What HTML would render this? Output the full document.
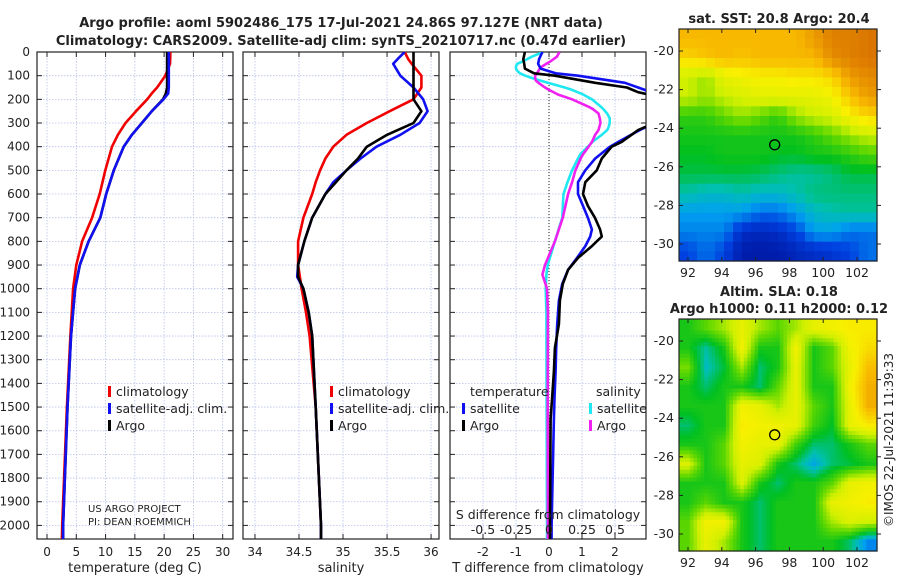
<!DOCTYPE html>
<html><head><meta charset="utf-8"><style>
body{margin:0;background:#fff;font-family:"Liberation Sans","DejaVu Sans",sans-serif}
svg text{font-family:"DejaVu Sans","Liberation Sans",sans-serif;fill:#222}
</style></head><body>
<svg id="c" width="900" height="580" xmlns="http://www.w3.org/2000/svg">
<text x="341" y="27" text-anchor="middle" font-size="13" font-weight="bold">Argo profile: aoml 5902486_175 17-Jul-2021 24.86S 97.127E (NRT data)</text>
<text x="341" y="45" text-anchor="middle" font-size="13" font-weight="bold">Climatology: CARS2009. Satellite-adj clim: synTS_20210717.nc (0.47d earlier)</text>
<text x="779" y="23" text-anchor="middle" font-size="13" font-weight="bold">sat. SST: 20.8 Argo: 20.4</text>
<text x="779" y="296" text-anchor="middle" font-size="13" font-weight="bold">Altim. SLA: 0.18</text>
<text x="779" y="313" text-anchor="middle" font-size="13" font-weight="bold">Argo h1000: 0.11 h2000: 0.12</text>
<text transform="translate(893,440) rotate(-90)" text-anchor="middle" font-size="12">©IMOS 22-Jul-2021 11:39:33</text>
<g id="g"></g>
</svg>
<script>
const depths=[0,20,50,100,150,175,200,250,300,350,400,500,600,700,800,900,1000,1200,1500,2000,2060];
const tempClim=[21.05,21.05,21.0,20.2,18.8,17.9,17.1,15.2,13.4,12.1,11.1,9.96,9.0,7.7,6.0,5.0,4.45,4.0,3.4,2.6,2.55];
const tempSat=[20.8,20.8,20.8,20.8,20.8,20.7,19.9,17.9,16.2,14.5,13.1,11.4,10.1,9.1,7.1,5.6,4.8,4.1,3.5,2.75,2.75];
const tempArgo=[20.5,20.5,20.5,20.5,20.5,20.3,19.8,17.9,16.2,14.5,13.1,11.4,10.1,9.1,7.1,5.6,4.8,4.1,3.5,2.75,2.75];
const salDepths=[0,30,50,100,150,200,250,300,350,400,450,500,550,600,700,800,900,950,1000,1100,1200,1500,2000,2060];
const salClim=[35.70,35.74,35.78,35.89,35.89,35.80,35.53,35.27,35.04,34.89,34.80,34.74,34.69,34.65,34.55,34.49,34.49,34.51,34.53,34.58,34.62,34.69,34.75,34.75];
const salSat=[35.70,35.62,35.57,35.65,35.80,35.91,35.96,35.87,35.65,35.38,35.20,35.04,34.89,34.80,34.65,34.56,34.49,34.48,34.55,34.61,34.65,34.69,34.75,34.75];
const salArgo=[35.80,35.80,35.80,35.80,35.80,35.80,35.89,35.80,35.50,35.27,35.17,35.04,34.92,34.80,34.65,34.56,34.49,34.49,34.55,34.61,34.65,34.69,34.75,34.75];
const dtDepths=[0,30,50,70,90,100,130,150,170,185,300,330,380,400,450,500,550,600,650,700,750,780,820,870,920,980,1050,1150,1250,1350,1450,1550,2000,2060];
const dtSat=[-0.2,-0.3,-0.33,-0.25,0.2,0.88,2.3,2.7,3.1,3.2,3.2,2.75,2.1,1.85,1.4,1.1,0.88,0.88,1.03,1.18,1.3,1.25,1.1,0.85,0.58,0.4,0.3,0.25,0.22,0.2,0.17,0.15,0.08,0.08];
const dtArgo=[-0.73,-0.78,-0.75,-0.73,-0.45,0.18,1.4,2.36,2.7,3.2,3.2,2.7,2.2,1.9,1.6,1.45,1.1,1.03,1.18,1.39,1.55,1.6,1.3,0.88,0.58,0.42,0.33,0.3,0.18,0.15,0.1,0.05,0.03,0.03];
const dsDepths=[0,20,40,50,60,70,80,90,100,110,120,130,150,160,180,200,230,240,260,280,300,320,330,350,380,400,430,450,500,550,600,700,800,900,940,1000,1100,1500,2000,2060];
const dsSat=[-0.045,-0.13,-0.2,-0.24,-0.25,-0.25,-0.24,-0.22,-0.18,-0.13,-0.07,-0.01,0.12,0.175,0.26,0.325,0.39,0.41,0.44,0.46,0.46,0.45,0.44,0.4,0.33,0.295,0.24,0.22,0.175,0.14,0.11,0.1,0.045,-0.01,-0.02,-0.025,-0.02,-0.018,-0.015,-0.015];
const dsArgo=[0.08,0.06,0.01,-0.02,-0.05,-0.07,-0.08,-0.09,-0.105,-0.105,-0.1,-0.08,-0.03,0.0,0.07,0.175,0.295,0.33,0.375,0.385,0.39,0.38,0.375,0.35,0.325,0.3,0.26,0.24,0.2,0.175,0.145,0.105,0.045,-0.03,-0.05,-0.015,-0.008,-0.01,-0.008,-0.008];
const sstGrid=[
[.8,.8,.8,.8,.8,.8,.8,.85,.9,.9,.92],
[.75,.78,.8,.78,.8,.8,.8,.8,.88,.9,.92],
[.6,.55,.65,.68,.7,.7,.72,.72,.75,.85,.88],
[.6,.55,.6,.62,.65,.65,.65,.65,.68,.78,.85],
[.45,.45,.5,.55,.5,.45,.55,.6,.62,.7,.75],
[.42,.42,.42,.42,.42,.42,.42,.45,.5,.55,.6],
[.4,.4,.42,.42,.42,.4,.4,.42,.42,.45,.48],
[.38,.38,.38,.38,.37,.35,.33,.33,.35,.38,.38],
[.32,.3,.3,.32,.3,.3,.32,.35,.35,.35,.35],
[.25,.25,.25,.25,.2,.2,.25,.3,.32,.33,.33],
[.22,.22,.22,.1,.08,.1,.15,.25,.25,.2,.2],
[.15,.2,.15,.05,.05,.05,.08,.1,.12,.15,.2]];
const slaGrid=[
[.45,.5,.55,.62,.55,.5,.55,.62,.64,.66,.66],
[.45,.38,.45,.64,.45,.45,.64,.45,.5,.64,.68],
[.52,.36,.42,.55,.4,.45,.62,.45,.5,.62,.72],
[.45,.4,.45,.45,.4,.5,.62,.45,.45,.64,.74],
[.45,.45,.45,.64,.62,.55,.62,.5,.45,.62,.74],
[.4,.45,.45,.66,.64,.64,.62,.48,.43,.62,.66],
[.45,.45,.5,.64,.62,.62,.48,.4,.4,.45,.5],
[.6,.45,.5,.62,.6,.45,.4,.33,.4,.42,.45],
[.45,.45,.45,.6,.45,.4,.45,.45,.5,.62,.64],
[.45,.5,.45,.45,.4,.45,.45,.45,.62,.64,.66],
[.5,.64,.64,.45,.4,.45,.45,.45,.55,.6,.58],
[.5,.62,.55,.45,.4,.45,.45,.45,.45,.4,.3]];
const argoLon=97.13, argoLat=-24.86;

const NS="http://www.w3.org/2000/svg";
const G=document.getElementById('g');
function el(t,a,p){const e=document.createElementNS(NS,t);for(const k in a)e.setAttribute(k,a[k]);(p||G).appendChild(e);return e;}
function txt(x,y,s,a,p){const e=el('text',Object.assign({x:x,y:y,'font-size':12},a||{}),p);e.textContent=s;return e;}
const TOP=52,BOT=539;
const yD=d=>TOP+d*0.2367;

function panel(name,x0,x1,xmin,xmax,ticks,labels,title,showY){
  const g=el('g',{});
  
  
  const sx=v=>x0+(v-xmin)/(xmax-xmin)*(x1-x0);
  for(let d=100;d<=2000;d+=100){el('line',{x1:x0,x2:x1,y1:yD(d),y2:yD(d),stroke:'#b8c0e8','stroke-width':0.8,'stroke-dasharray':'1.5,1.5'},g);}
  ticks.forEach(t=>{el('line',{x1:sx(t),x2:sx(t),y1:TOP,y2:BOT,stroke:'#b8c0e8','stroke-width':0.8,'stroke-dasharray':'1.5,1.5'},g);
    el('line',{x1:sx(t),x2:sx(t),y1:BOT,y2:BOT-5,stroke:'#222'},g);el('line',{x1:sx(t),x2:sx(t),y1:TOP,y2:TOP+5,stroke:'#222'},g);});
  labels.forEach((l,i)=>{const e=txt(sx(ticks[i]),556,l,{'text-anchor':'middle'},g);});
  for(let d=0;d<=2000;d+=100){el('line',{x1:x0,x2:x0+5,y1:yD(d),y2:yD(d),stroke:'#222'},g);el('line',{x1:x1,x2:x1-5,y1:yD(d),y2:yD(d),stroke:'#222'},g);
    if(showY){const e=txt(x0-7,yD(d)+4,String(d),{'text-anchor':'end'},g);}}
  el('rect',{x:x0,y:TOP,width:x1-x0,height:BOT-TOP,fill:'none',stroke:'#222','stroke-width':1.2},g);
  const t=txt((x0+x1)/2,572,title,{'text-anchor':'middle','font-size':13},g);
  
  return {g,sx,x0,x1};
}
function line(P,ds,vs,col,name,sx){
  const sxx=sx||P.sx;
  const pts=ds.map((d,i)=>sxx(vs[i]).toFixed(1)+','+yD(d).toFixed(1)).join(' ');
  const cp=el('clipPath',{id:'cp'+name});el('rect',{x:P.x0,y:TOP,width:P.x1-P.x0,height:BOT-TOP},cp);
  const e=el('polyline',{points:pts,fill:'none',stroke:col,'stroke-width':2.6,'stroke-linejoin':'round','clip-path':'url(#cp'+name+')'},P.g);
  
  
}
function legendItem(P,x,y,col,label,name){
  const g=el('g',{},P.g);
  
  
  el('rect',{x:x,y:y-10,width:3,height:11,fill:col},g);
  txt(x+8,y,label,{'font-size':12.5},g);
}

const P1=panel('temperature-panel',37,233,-1.71,31.76,[0,5,10,15,20,25,30],['0','5','10','15','20','25','30'],'temperature (deg C)',true);
line(P1,depths,tempClim,'#f00000','temp-climatology-line');
line(P1,depths,tempArgo,'#000','temp-argo-line');
line(P1,depths,tempSat,'#1010f0','temp-satellite-line');
legendItem(P1,108,396,'#f00000','climatology','legend-climatology');
legendItem(P1,108,413,'#1010f0','satellite-adj. clim.','legend-satellite');
legendItem(P1,108,430,'#000','Argo','legend-argo');
txt(88,512,'US ARGO PROJECT',{'font-size':10},P1.g);
txt(88,525,'PI: DEAN ROEMMICH',{'font-size':10},P1.g);

const P2=panel('salinity-panel',243,439,33.864,36.09,[34,34.5,35,35.5,36],['34','34.5','35','35.5','36'],'salinity',false);
line(P2,salDepths,salClim,'#f00000','sal-climatology-line');
line(P2,salDepths,salSat,'#1010f0','sal-satellite-line');
line(P2,salDepths,salArgo,'#000','sal-argo-line');
legendItem(P2,330,396,'#f00000','climatology','legend-climatology');
legendItem(P2,330,413,'#1010f0','satellite-adj. clim.','legend-satellite');
legendItem(P2,330,430,'#000','Argo','legend-argo');

const P3=panel('difference-panel',450,646,-3.0,2.94,[-2,-1,0,1,2],['-2','-1','0','1','2'],'T difference from climatology',false);
el('line',{x1:P3.sx(0),x2:P3.sx(0),y1:TOP,y2:BOT,stroke:'#444','stroke-dasharray':'1,2','stroke-width':1.2},P3.g);
const sxS=v=>P3.sx(v*4);
line(P3,dsDepths,dsSat,'#20e8f0','sdiff-satellite-line',sxS);
line(P3,dsDepths,dsArgo,'#f020f0','sdiff-argo-line',sxS);
line(P3,dtDepths,dtSat,'#1010f0','tdiff-satellite-line');
line(P3,dtDepths,dtArgo,'#000','tdiff-argo-line');
txt(470,396,'temperature',{'font-size':12.5},P3.g);
txt(596,396,'salinity',{'font-size':12.5},P3.g);
legendItem(P3,462,413,'#1010f0','satellite','legend-t-satellite');
legendItem(P3,462,430,'#000','Argo','legend-t-argo');
legendItem(P3,589,413,'#20e8f0','satellite','legend-s-satellite');
legendItem(P3,589,430,'#f020f0','Argo','legend-s-argo');
txt(548,519,'S difference from climatology',{'text-anchor':'middle','font-size':12.5},P3.g);
[-0.5,-0.25,0,0.25,0.5].forEach(v=>{const e=txt(sxS(v),534,String(v),{'text-anchor':'middle','font-size':12.5},P3.g);});

const stops=[[0,[0,10,144]],[.15,[0,64,224]],[.25,[0,160,240]],[.32,[0,192,176]],[.4,[0,192,32]],[.5,[96,216,0]],[.6,[208,240,0]],[.7,[248,240,0]],[.8,[248,184,0]],[.9,[224,128,0]],[1,[192,80,0]]];
function cmap(v){v=Math.max(0,Math.min(1,v));for(let i=1;i<stops.length;i++){if(v<=stops[i][0]){const a=stops[i-1],b=stops[i],t=(v-a[0])/(b[0]-a[0]);return 'rgb('+a[1].map((c,k)=>Math.round(c+(b[1][k]-c)*t)).join(',')+')';}}return 'rgb(192,80,0)';}
function map(name,y0,y1,grid,lat20y,sub,contrast){
  const x0=679,x1=877;
  const g=el('g',{});
  
  
  const R=grid.length,C=grid[0].length;
  const NR=R*sub,NC=C*sub,cw=(x1-x0)/NC,ch=(y1-y0)/NR;
  const val=(r,c)=>{
    const fr=Math.max(0,Math.min(R-1,(r+0.5)/sub-0.5)),fc=Math.max(0,Math.min(C-1,(c+0.5)/sub-0.5));
    const r0=Math.floor(fr),c0=Math.floor(fc),r1=Math.min(R-1,r0+1),c1=Math.min(C-1,c0+1),tr=fr-r0,tc=fc-c0;
    return grid[r0][c0]*(1-tr)*(1-tc)+grid[r0][c1]*(1-tr)*tc+grid[r1][c0]*tr*(1-tc)+grid[r1][c1]*tr*tc;};
  for(let r=0;r<NR;r++)for(let c=0;c<NC;c++){
    const v=0.52+(val(r,c)-0.52)*contrast;
    el('rect',{x:(x0+c*cw).toFixed(2),y:(y0+r*ch).toFixed(2),width:(cw+0.6).toFixed(2),height:(ch+0.6).toFixed(2),fill:cmap(v)},g);}
  el('rect',{x:x0,y:y0,width:x1-x0,height:y1-y0,fill:'none',stroke:'#222','stroke-width':1.2},g);
  const lx=lon=>688+(lon-92)*16.9, ly=lat=>lat20y+(-20-lat)*19.3;
  [92,94,96,98,100,102].forEach(l=>{el('line',{x1:lx(l),x2:lx(l),y1:y1,y2:y1-4,stroke:'#222'},g);el('line',{x1:lx(l),x2:lx(l),y1:y0,y2:y0+4,stroke:'#222'},g);
    const e=txt(lx(l),y1+16,String(l),{'text-anchor':'middle','font-size':12.5},g);});
  [-20,-22,-24,-26,-28,-30].forEach(l=>{el('line',{x1:x0,x2:x0+4,y1:ly(l),y2:ly(l),stroke:'#222'},g);el('line',{x1:x1,x2:x1+4,y1:ly(l),y2:ly(l),stroke:'#222'},g);
    const e=txt(x0-5,ly(l)+4,String(l),{'text-anchor':'end','font-size':12.5},g);});
  const m=el('circle',{cx:lx(argoLon),cy:ly(argoLat),r:5,fill:'none',stroke:'#000','stroke-width':1.3},g);
  
  
}
map('sst-map',29,261,sstGrid,51,2,1);
map('sla-map',319,551,slaGrid,341,5,1.35);
</script>
</body></html>
